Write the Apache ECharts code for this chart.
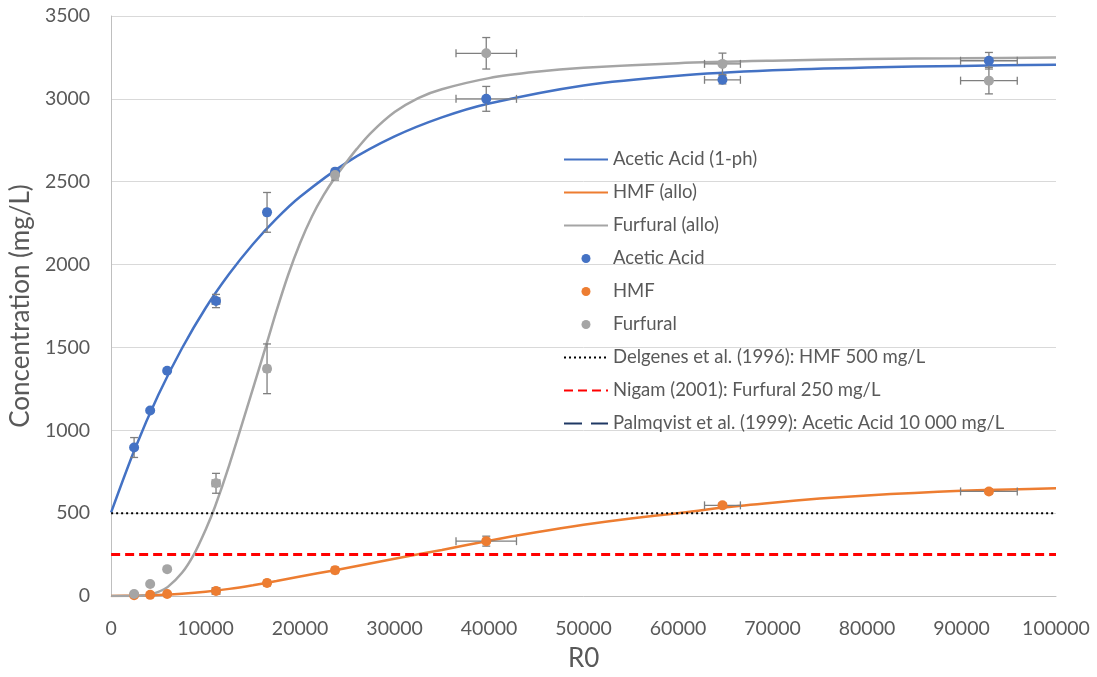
<!DOCTYPE html>
<html>
<head>
<meta charset="utf-8">
<script src="https://cdn.jsdelivr.net/npm/echarts@6/dist/echarts.min.js"></script>
<style>
    html, body { margin: 0; padding: 0; background: #fff; }
    #chart { width: 1097px; height: 677px; }
</style>
</head>
<body>
<div id="chart"></div>
<script>
// measured points (R0, mg/L)
var r0 = [2430, 4130, 5930, 11100, 16500, 23700, 39700, 64700, 92900];
var r0Err = [0, 0, 0, 400, 300, 300, 3200, 1900, 3000];
var aceticVals = [896, 1119, 1359, 1780, 2315, 2560, 3000, 3115, 3230];
var aceticErr = [60, 0, 0, 40, 120, 0, 75, 25, 50];
var hmfVals = [5, 7, 12, 30, 78, 156, 331, 547, 631];
var hmfErr = [0, 0, 0, 10, 10, 10, 30, 15, 15];
var furfuralVals = [12, 72, 162, 680, 1371, 2540, 3275, 3211, 3110];
var furfuralErr = [0, 0, 0, 60, 150, 30, 95, 65, 80];

// fitted curves
var aceticFitX = [0, 2500, 5000, 7500, 10000, 12500, 15000, 17500, 20000, 25000, 30000, 35000, 40000, 50000, 60000, 70000, 80000, 90000, 100000];
var aceticFitY = [505, 886, 1214, 1495, 1738, 1944, 2123, 2277, 2409, 2618, 2773, 2888, 2972, 3081, 3140, 3172, 3189, 3199, 3206];
var hmfFitX = [0, 2500, 5000, 7500, 10000, 12500, 15000, 17500, 20000, 23700, 30000, 35000, 40000, 45000, 50000, 55000, 60000, 65000, 70000, 75000, 80000, 85000, 90000, 95000, 100000];
var hmfFitY = [0, 2, 6, 14, 26, 43, 65, 90, 118, 156, 225, 278, 334, 385, 430, 468, 500, 535, 563, 588, 607, 622, 635, 643, 650];
var furfuralFitX = [0, 2500, 4000, 5000, 6000, 7500, 8750, 10000, 11000, 12500, 15000, 16500, 17500, 18750, 20000, 21250, 22500, 23700, 25000, 26000, 27500, 30000, 32500, 35000, 40000, 45000, 50000, 60000, 70000, 80000, 90000, 100000];
var furfuralFitY = [0, 0, 8, 25, 55, 140, 250, 400, 540, 790, 1250, 1530, 1720, 1940, 2130, 2290, 2420, 2525, 2625, 2698, 2795, 2920, 3005, 3058, 3125, 3163, 3187, 3215, 3230, 3240, 3245, 3250];

// limits from literature
var xRange = [0, 100000];
var delgenes = 500;
var nigam = 250;
var palmqvist = 10000;

var font = 'Lato';
var textColor = '#595959';

function zip(xs, ys) {
    return xs.map(function (x, i) { return [x, ys[i]]; });
}

function errData(ys, yErr) {
    return r0.map(function (x, i) { return [x, ys[i], r0Err[i], yErr[i]]; });
}

function renderErr(params, api) {
    var x = api.value(0), y = api.value(1), dx = api.value(2), dy = api.value(3);
    var c = api.coord([x, y]);
    var cap = 4;
    var style = { stroke: '#7f7f7f', lineWidth: 1.3 };
    var kids = [];
    if (dy > 0) {
        var top = api.coord([x, y + dy]), bot = api.coord([x, y - dy]);
        kids.push({ type: 'line', shape: { x1: c[0], y1: top[1], x2: c[0], y2: bot[1] }, style: style });
        kids.push({ type: 'line', shape: { x1: c[0] - cap, y1: top[1], x2: c[0] + cap, y2: top[1] }, style: style });
        kids.push({ type: 'line', shape: { x1: c[0] - cap, y1: bot[1], x2: c[0] + cap, y2: bot[1] }, style: style });
    }
    if (dx > 0) {
        var l = api.coord([x - dx, y]), r = api.coord([x + dx, y]);
        kids.push({ type: 'line', shape: { x1: l[0], y1: c[1], x2: r[0], y2: c[1] }, style: style });
        kids.push({ type: 'line', shape: { x1: l[0], y1: c[1] - cap, x2: l[0], y2: c[1] + cap }, style: style });
        kids.push({ type: 'line', shape: { x1: r[0], y1: c[1] - cap, x2: r[0], y2: c[1] + cap }, style: style });
    }
    return { type: 'group', children: kids };
}

function fitLine(name, xs, ys, color) {
    return {
        name: name, type: 'line', data: zip(xs, ys), smooth: 0.3,
        symbol: 'none', lineStyle: { color: color, width: 2.5 }, itemStyle: { color: color },
        z: 3
    };
}

function limitLine(name, val, color, width, dash) {
    return {
        name: name, type: 'line', data: [[xRange[0], val], [xRange[1], val]],
        symbol: 'none', lineStyle: { color: color, width: width, type: dash }, itemStyle: { color: color },
        z: 4
    };
}

function points(name, ys, color) {
    return {
        name: name, type: 'scatter', data: zip(r0, ys), symbol: 'circle', symbolSize: 10,
        itemStyle: { color: color, opacity: 1 }, z: 6
    };
}

function errSeries(ys, yErr) {
    return { type: 'custom', data: errData(ys, yErr), renderItem: renderErr, z: 5, silent: true };
}

// line-only legend entry (hide the dot ECharts puts on line icons)
function lineItem(name) {
    return { name: name, itemStyle: { color: 'rgba(0,0,0,0)', borderWidth: 0 } };
}

function plainNum(v) {
    return String(v);
}

var option = {
    animation: false,
    textStyle: { fontFamily: font },
    grid: { left: 111, right: 41, top: 16, bottom: 79 },
    legend: {
        orient: 'vertical', left: 558, top: 145,
        itemWidth: 44, itemHeight: 9, itemGap: 14,
        textStyle: { fontFamily: font, fontSize: 18.5, color: textColor },
        data: [
            lineItem('Acetic Acid (1-ph)'), lineItem('HMF (allo)'), lineItem('Furfural (allo)'),
            { name: 'Acetic Acid', icon: 'circle' },
            { name: 'HMF', icon: 'circle' },
            { name: 'Furfural', icon: 'circle' },
            lineItem('Delgenes et al. (1996): HMF 500 mg/L'),
            lineItem('Nigam (2001): Furfural 250 mg/L'),
            lineItem('Palmqvist et al. (1999): Acetic Acid 10 000 mg/L')
        ]
    },
    xAxis: {
        type: 'value', min: 0, max: 100000, interval: 10000,
        name: 'R0', nameLocation: 'middle', nameGap: 50,
        nameTextStyle: { fontFamily: font, fontSize: 26, color: textColor },
        axisLine: { show: true, lineStyle: { color: '#bfbfbf', width: 1 } },
        axisTick: { show: false },
        axisLabel: { fontFamily: font, fontSize: 19.5, color: textColor, margin: 23, formatter: plainNum },
        splitLine: { show: false }
    },
    yAxis: {
        type: 'value', min: 0, max: 3500, interval: 500,
        name: 'Concentration (mg/L)', nameLocation: 'middle', nameGap: 71,
        nameTextStyle: { fontFamily: font, fontSize: 26, color: textColor },
        axisLine: { show: true, lineStyle: { color: '#bfbfbf', width: 1 } },
        axisTick: { show: false },
        axisLabel: { fontFamily: font, fontSize: 19.5, color: textColor, margin: 21, formatter: plainNum },
        splitLine: { show: true, lineStyle: { color: '#d9d9d9', width: 1 } }
    },
    series: [
        fitLine('Acetic Acid (1-ph)', aceticFitX, aceticFitY, '#4472c4'),
        fitLine('HMF (allo)', hmfFitX, hmfFitY, '#ed7d31'),
        fitLine('Furfural (allo)', furfuralFitX, furfuralFitY, '#a5a5a5'),
        errSeries(aceticVals, aceticErr),
        errSeries(hmfVals, hmfErr),
        errSeries(furfuralVals, furfuralErr),
        points('Acetic Acid', aceticVals, '#4472c4'),
        points('HMF', hmfVals, '#ed7d31'),
        points('Furfural', furfuralVals, '#a5a5a5'),
        limitLine('Delgenes et al. (1996): HMF 500 mg/L', delgenes, '#000000', 2, [2, 3]),
        limitLine('Nigam (2001): Furfural 250 mg/L', nigam, '#ff0000', 3, [9, 5]),
        limitLine('Palmqvist et al. (1999): Acetic Acid 10 000 mg/L', palmqvist, '#1f3864', 2.5, [18, 9])
    ]
};

var myChart = echarts.init(document.getElementById('chart'));
myChart.setOption(option);
</script>
</body>
</html>
